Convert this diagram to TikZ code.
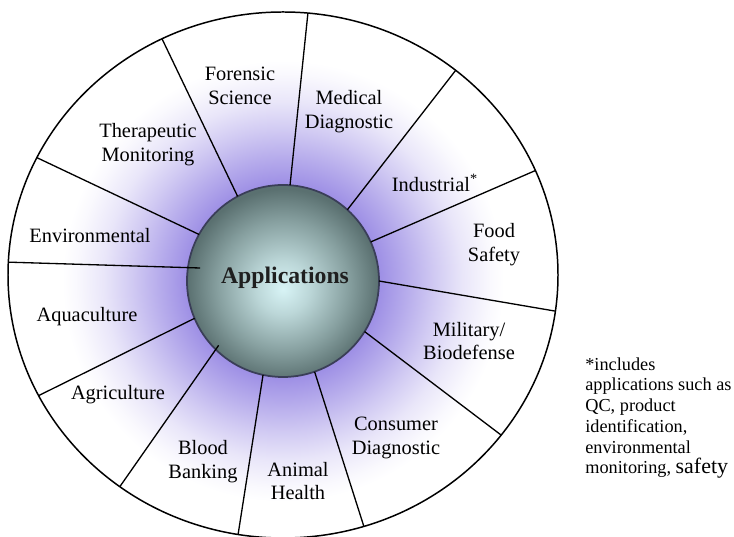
\documentclass[tikz,border=0pt]{standalone}
\usepackage{fontspec}
\setmainfont{Liberation Serif}
\usetikzlibrary{calc}
\definecolor{glowpurple}{RGB}{146,130,226}
\definecolor{spherelight}{HTML}{D8F4F6}
\definecolor{spheremid}{HTML}{87A0A0}
\definecolor{spheredark}{HTML}{5A7070}
\definecolor{sphereedge}{HTML}{3A3E58}
\pgfdeclareradialshading{glowshade}{\pgfpoint{0bp}{0bp}}{color(0bp)=(glowpurple); color(10.4bp)=(glowpurple!90!white); color(13.5bp)=(glowpurple!66!white); color(16.5bp)=(glowpurple!42!white); color(19.5bp)=(glowpurple!20!white); color(22.5bp)=(glowpurple!5!white); color(24bp)=(white); color(50bp)=(white)}
\pgfdeclareradialshading{sphereshade}{\pgfpoint{0bp}{-2bp}}{color(0bp)=(spherelight); color(7bp)=(spherelight!65!spheremid); color(17bp)=(spheremid); color(25bp)=(spheredark); color(50bp)=(spheredark)}

\begin{document}
\begin{tikzpicture}[x=0.02cm, y=0.02cm,
    spoke/.style={line width=0.75pt, black},
    rim/.style={line width=0.85pt, black},
    sector/.style={font=\fontsize{11.6}{13.6}\selectfont, align=center, inner sep=0pt},
    hub/.style={font=\fontsize{13.5}{15}\selectfont\bfseries, text=black!88, inner sep=0pt},
    note/.style={font=\fontsize{10.4}{11.8}\selectfont, align=left, inner sep=0pt, anchor=west}]
    % canvas
    \fill[white] (0,0) rectangle (734,537);
    \useasboundingbox (0,0) rectangle (734,537);
    \coordinate (O) at (283,262);
    \coordinate (C) at (283,256);
    % purple glow around the hub
    \shade[shading=glowshade] (C) circle (230);
    % outer rim
    \draw[rim] (O) ellipse (275 and 263);
    % hub sphere
    \shade[shading=sphereshade] (C) circle (96);
    \draw[sphereedge, line width=1pt] (C) circle (96);
    % spokes: rim angle / hub angle / hub radius
    \foreach \a/\b/\r in {84.8/85.8/96, 116.1/118.2/96, 153.5/151/96, 177.2/171.1/84,
                          207.3/202.9/96, 233.6/225/91, 260.6/258/96, 287.1/289.2/96,
                          322.5/328.2/96, 352.1/0/96, 23.4/24/96, 51.1/47.9/96} {
      \draw[spoke] ($(O)+(\a:275 and 263)$) -- ($(C)+(\b:\r)$);
    }
    \node[hub] (hub) at (285,259) {Applications};
    % sector labels
    \node[sector] (forensic) at (240,451) {Forensic\\Science};
    \node[sector] (medical) at (349,425) {Medical\\Diagnostic};
    \node[sector] (therapeutic) at (148,392) {Therapeutic\\Monitoring};
    \node[sector] (environmental) at (90,301) {Environmental};
    \node[sector] (industrial) at (435,354) {Industrial\textsuperscript{*}};
    \node[sector] (food) at (494,292) {Food\\Safety};
    \node[sector] (military) at (469,196) {Military/\\Biodefense};
    \node[sector] (consumer) at (396,99) {Consumer\\Diagnostic};
    \node[sector] (aquaculture) at (87,220) {Aquaculture};
    \node[sector] (agriculture) at (118,142) {Agriculture};
    \node[sector] (blood) at (203,75) {Blood\\Banking};
    \node[sector] (animal) at (298,56) {Animal\\Health};
    % footnote
    \node[note] (footnote) at (585,119) {*includes\\applications such as\\QC, product\\identification,\\environmental\\monitoring, {\fontsize{12.5}{11.8}\selectfont safety}};
\end{tikzpicture}
\end{document}
